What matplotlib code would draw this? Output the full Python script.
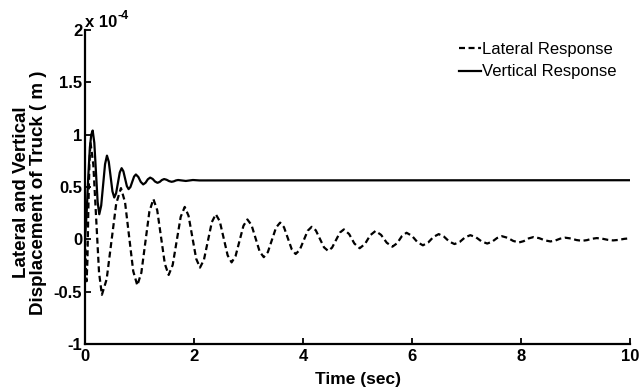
import matplotlib
matplotlib.use("Agg")
import matplotlib.pyplot as plt
from matplotlib.ticker import FuncFormatter

plt.rcParams['font.family'] = ['Liberation Sans', 'DejaVu Sans']

# values in units of 1e-4 m
lat_t = [0.0, 0.015, 0.03, 0.045, 0.06, 0.08, 0.10,
         0.1525, 0.205, 0.2575, 0.31,
         0.3975, 0.485, 0.5725, 0.66,
         0.735, 0.81, 0.885, 0.96,
         1.034, 1.1075, 1.181, 1.255,
         1.325, 1.395, 1.465, 1.535,
         1.609, 1.6825, 1.756, 1.83,
         1.90, 1.97, 2.04, 2.11,
         2.1825, 2.255, 2.3275, 2.40,
         2.4725, 2.545, 2.6175, 2.69,
         2.7625, 2.835, 2.9075, 2.98,
         3.055, 3.13, 3.205, 3.28,
         3.355, 3.43, 3.505, 3.58,
         3.651, 3.7225, 3.794, 3.865,
         3.939, 4.0125, 4.086, 4.16,
         4.235, 4.31, 4.385, 4.46,
         4.5325, 4.605, 4.6775, 4.75,
         4.847, 4.943, 5.04,
         5.137, 5.233, 5.33,
         5.433, 5.537, 5.64,
         5.727, 5.813, 5.90,
         6.0, 6.1, 6.20,
         6.297, 6.393, 6.49,
         6.587, 6.683, 6.78,
         6.877, 6.973, 7.07,
         7.173, 7.277, 7.38,
         7.47, 7.56, 7.65,
         7.753, 7.857, 7.96,
         8.05, 8.14, 8.23,
         8.333, 8.437, 8.54,
         8.63, 8.72, 8.81,
         8.913, 9.017, 9.12,
         9.21, 9.30, 9.39,
         9.49, 9.59, 9.69,
         9.793, 9.897, 10.0]
lat_y = [0.0, -0.25, -0.40, -0.2, 0.25, 0.7, 0.93,
         0.716, 0.2, -0.316, -0.53,
         -0.381, -0.02, 0.341, 0.49,
         0.354, 0.025, -0.304, -0.44,
         -0.319, -0.0275, 0.264, 0.385,
         0.279, 0.0225, -0.234, -0.34,
         -0.245, -0.015, 0.215, 0.31,
         0.225, 0.02, -0.185, -0.27,
         -0.195, -0.015, 0.165, 0.24,
         0.173, 0.01, -0.153, -0.22,
         -0.16, -0.015, 0.13, 0.19,
         0.137, 0.01, -0.117, -0.17,
         -0.122, -0.005, 0.112, 0.16,
         0.116, 0.01, -0.096, -0.14,
         -0.102, -0.01, 0.082, 0.12,
         0.086, 0.005, -0.076, -0.11,
         -0.08, -0.0075, 0.065, 0.095,
         0.05, -0.04, -0.085,
         -0.044, 0.039, 0.08,
         0.0425, -0.0325, -0.07,
         -0.037, 0.03, 0.063,
         0.033, -0.027, -0.057,
         -0.03, 0.023, 0.05,
         0.026, -0.021, -0.045,
         -0.024, 0.019, 0.04,
         0.02, -0.02, -0.04,
         -0.0225, 0.0125, 0.03,
         0.015, -0.015, -0.03,
         -0.017, 0.009, 0.022,
         0.0115, -0.0095, -0.02,
         -0.011, 0.007, 0.016,
         0.0085, -0.0065, -0.014,
         -0.0075, 0.0055, 0.012,
         0.0065, -0.0045, -0.01,
         -0.005, 0.005, 0.01]

vert_t = [0.0, 0.03, 0.06, 0.09, 0.115, 0.141,
          0.171, 0.2015, 0.232, 0.262,
          0.297, 0.3325, 0.368, 0.403,
          0.4365, 0.47, 0.5035, 0.537,
          0.571, 0.6045, 0.638, 0.672,
          0.704, 0.736, 0.768, 0.80,
          0.8335, 0.867, 0.9005, 0.934,
          0.979, 1.023, 1.068,
          1.111, 1.153, 1.196,
          1.241, 1.285, 1.33,
          1.371, 1.411, 1.452,
          1.497, 1.543, 1.588,
          1.628, 1.669, 1.709,
          1.85, 1.98, 2.1, 10.0]
vert_y = [0.0, 0.25, 0.6, 0.88, 1.0, 1.04,
          0.923, 0.64, 0.357, 0.24,
          0.322, 0.52, 0.718, 0.80,
          0.741, 0.6, 0.459, 0.40,
          0.441, 0.54, 0.639, 0.68,
          0.651, 0.58, 0.509, 0.48,
          0.5, 0.55, 0.6, 0.62,
          0.596, 0.549, 0.525,
          0.541, 0.574, 0.59,
          0.5775, 0.5525, 0.54,
          0.549, 0.567, 0.576,
          0.5695, 0.5565, 0.55,
          0.554, 0.563, 0.567,
          0.558, 0.567, 0.563, 0.565]

x_ticks = [0, 2, 4, 6, 8, 10]
y_ticks = [-1, -0.5, 0, 0.5, 1, 1.5, 2]

fig = plt.figure(figsize=(6.4, 3.92), dpi=100)
ax = fig.add_axes([0.1328, 0.1224, 0.8516, 0.801])

ax.plot(lat_t, lat_y, 'k--', lw=1.6, dashes=(2.7, 1.6), label='Lateral Response')
ax.plot(vert_t, vert_y, 'k-', lw=1.6, label='Vertical Response')

ax.set_xlim(0, 10)
ax.set_ylim(-1, 2)
ax.set_xticks(x_ticks)
ax.set_yticks(y_ticks)
ax.yaxis.set_major_formatter(FuncFormatter(lambda v, p: f"{v:g}"))
ax.xaxis.set_major_formatter(FuncFormatter(lambda v, p: f"{v:g}"))

for s in ['top', 'right']:
    ax.spines[s].set_visible(False)
for s in ['left', 'bottom']:
    ax.spines[s].set_linewidth(1.6)
ax.tick_params(direction='in', length=4, width=1.3, labelsize=12)
ax.tick_params(axis='y', pad=2)
ax.tick_params(axis='x', pad=3.5)
for lab in ax.get_xticklabels() + ax.get_yticklabels():
    lab.set_fontweight('bold')

ax.set_xlabel('Time (sec)', fontsize=12.5, fontweight='bold', labelpad=6)
ax.set_ylabel('Lateral and Vertical\nDisplacement of Truck ( m )',
              fontsize=13.5, fontweight='bold', linespacing=0.95)
ax.yaxis.set_label_coords(-0.07, 0.482)

t1 = ax.text(0.0, 1.0096, 'x 10', transform=ax.transAxes,
             fontsize=12, fontweight='bold', ha='left', va='baseline')
ax.annotate('-4', xy=(1.0, 0.72), xycoords=t1, xytext=(0.5, 0),
            textcoords='offset points', fontsize=9, fontweight='bold',
            ha='left', va='baseline')

ax.legend(loc='upper left', bbox_to_anchor=(0.686, 0.962), frameon=False,
          fontsize=12, handlelength=1.3, handletextpad=0.1,
          labelspacing=0.45, borderaxespad=0, borderpad=0)

fig.savefig('out.png', dpi=100)
